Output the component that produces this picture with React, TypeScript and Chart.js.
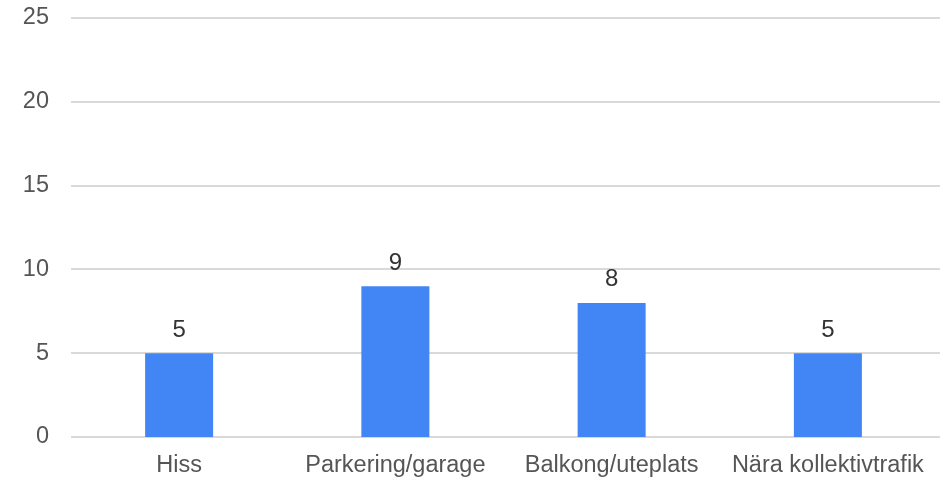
import React, { useEffect, useRef } from "react";
import { Chart, registerables } from "chart.js";

Chart.register(...registerables);

const categories = ["Hiss", "Parkering/garage", "Balkong/uteplats", "Nära kollektivtrafik"];
const values = [5, 9, 8, 5];
const yTicks = [0, 5, 10, 15, 20, 25];

const FONT = "'Liberation Sans', Arial, sans-serif";

const gridPlugin = {
  id: "customGrid",
  beforeDatasetsDraw(chart: any) {
    const { ctx, scales } = chart;
    const y = scales.y;
    ctx.save();
    ctx.strokeStyle = "#d9d9d9";
    ctx.lineWidth = 2;
    yTicks.forEach((v) => {
      const py = Math.round(y.getPixelForValue(v));
      ctx.beginPath();
      ctx.moveTo(71, py);
      ctx.lineTo(chart.width, py);
      ctx.stroke();
    });
    ctx.restore();
  },
};

const labelPlugin = {
  id: "dataLabels",
  afterDatasetsDraw(chart: any) {
    const { ctx } = chart;
    const meta = chart.getDatasetMeta(0);
    ctx.save();
    ctx.font = `24px ${FONT}`;
    ctx.fillStyle = "#333333";
    ctx.textAlign = "center";
    ctx.textBaseline = "alphabetic";
    meta.data.forEach((bar: any, i: number) => {
      ctx.fillText(String(values[i]), bar.x, bar.y - 16.5);
    });
    ctx.restore();
  },
};

export default function App() {
  const ref = useRef<HTMLCanvasElement>(null);
  useEffect(() => {
    const chart = new Chart(ref.current!, {
      type: "bar",
      data: {
        labels: categories,
        datasets: [
          {
            data: values,
            backgroundColor: "#4285F4",
            borderWidth: 0,
            categoryPercentage: 1,
            barPercentage: 0.3145,
          },
        ],
      },
      options: {
        animation: false,
        responsive: false,
        maintainAspectRatio: false,
        layout: { padding: { top: 18, right: 4, bottom: 0, left: 0 } },
        plugins: { legend: { display: false }, tooltip: { enabled: false } },
        scales: {
          x: {
            grid: { display: false, drawTicks: false },
            border: { display: false },
            ticks: {
              color: "#555555",
              font: { family: FONT, size: 23.5 },
              padding: 14,
              maxRotation: 0,
              autoSkip: false,
            },
            afterFit(scale: any) {
              scale.height = 45;
              scale.paddingLeft = 0;
              scale.paddingRight = 0;
            },
          },
          y: {
            min: 0,
            max: 25,
            grid: { display: false, drawTicks: false },
            border: { display: false },
            ticks: {
              stepSize: 5,
              color: "#555555",
              font: { family: FONT, size: 23.5 },
              padding: 22,
            },
            afterFit(scale: any) {
              scale.width = 71;
              scale.paddingTop = 0;
              scale.paddingBottom = 0;
            },
          },
        },
      },
      plugins: [gridPlugin, labelPlugin],
    });
    return () => chart.destroy();
  }, []);
  return (
    <div style={{ position: "fixed", left: 0, top: 0, width: 940, height: 482, background: "#fff" }}>
      <canvas ref={ref} width={940} height={482} style={{ width: 940, height: 482 }} />
    </div>
  );
}
